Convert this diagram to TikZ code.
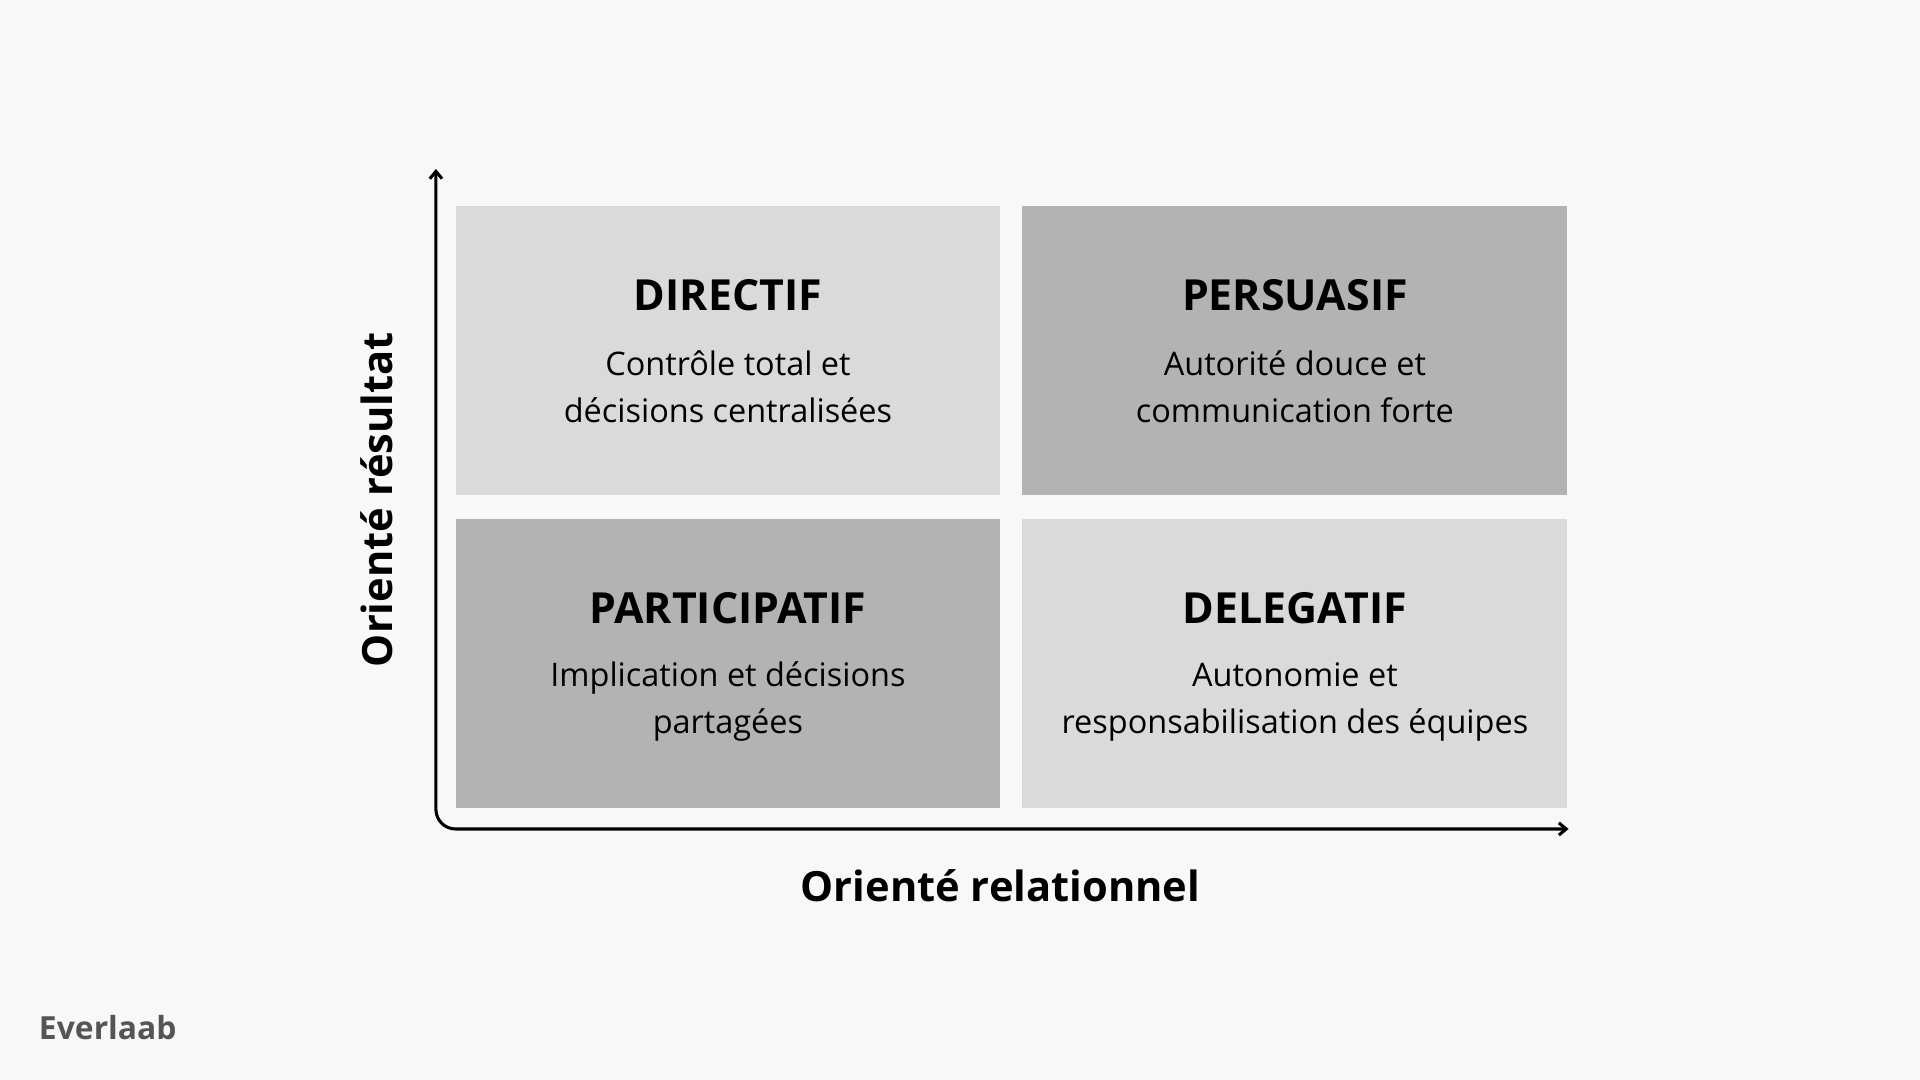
\documentclass[tikz,border=0pt]{standalone}
\usepackage{fontspec}
\setmainfont{Open Sans}
\usetikzlibrary{arrows.meta}
\definecolor{bg}{HTML}{F8F8F8}
\definecolor{lightq}{HTML}{DADADA}
\definecolor{darkq}{HTML}{B3B3B3}
\definecolor{brand}{HTML}{555555}
\begin{document}
\begin{tikzpicture}[x=1pt,y=-1pt,
  quad/.style={draw=none,minimum width=445pt,minimum height=236pt,inner sep=0pt},
  title/.style={font=\fontsize{35}{40}\selectfont\bfseries},
  body/.style={font=\fontsize{26.5}{38.5}\selectfont,align=center},
  axis/.style={line width=2.5pt,rounded corners=16pt}]
\fill[bg] (0,0) rectangle (1568,882);
\useasboundingbox (0,0) rectangle (1568,882);
\node[quad,fill=lightq] (q1) at (594.5,286) {};
\node[quad,fill=darkq] (q2) at (1057.5,286) {};
\node[quad,fill=darkq] (q3) at (594.5,542) {};
\node[quad,fill=lightq] (q4) at (1057.5,542) {};
\node[title] (t1) at (594.5,241) {DIRECTIF};
\node[title] (t2) at (1057.5,241) {PERSUASIF};
\node[title] (t3) at (594.5,497) {PARTICIPATIF};
\node[title] (t4) at (1057.5,497) {DELEGATIF};
\node[body] (b1) at (594.5,316) {Contrôle total et\\décisions centralisées};
\node[body] (b2) at (1057.5,316) {Autorité douce et\\communication forte};
\node[body] (b3) at (594.5,573) {Implication et décisions\\partagées};
\node[body] (b4) at (1057.5,573) {Autonomie et\\responsabilisation des équipes};
\coordinate (corner) at (356,677);
\coordinate (ytop) at (356,138);
\coordinate (xend) at (1281,677);
\draw[axis,{Straight Barb[length=6pt,width=10pt]}-{Straight Barb[length=6pt,width=10pt]}] (ytop) -- (corner) -- (xend);
\node[font=\fontsize{34}{38}\selectfont\bfseries,rotate=90] (yl) at (308,408) {Orienté résultat};
\node[font=\fontsize{34}{38}\selectfont\bfseries] (xl) at (817,723) {Orienté relationnel};
\node[font=\fontsize{26}{30}\selectfont\bfseries,text=brand] (logo) at (88,839) {Everlaab};
\end{tikzpicture}
\end{document}
